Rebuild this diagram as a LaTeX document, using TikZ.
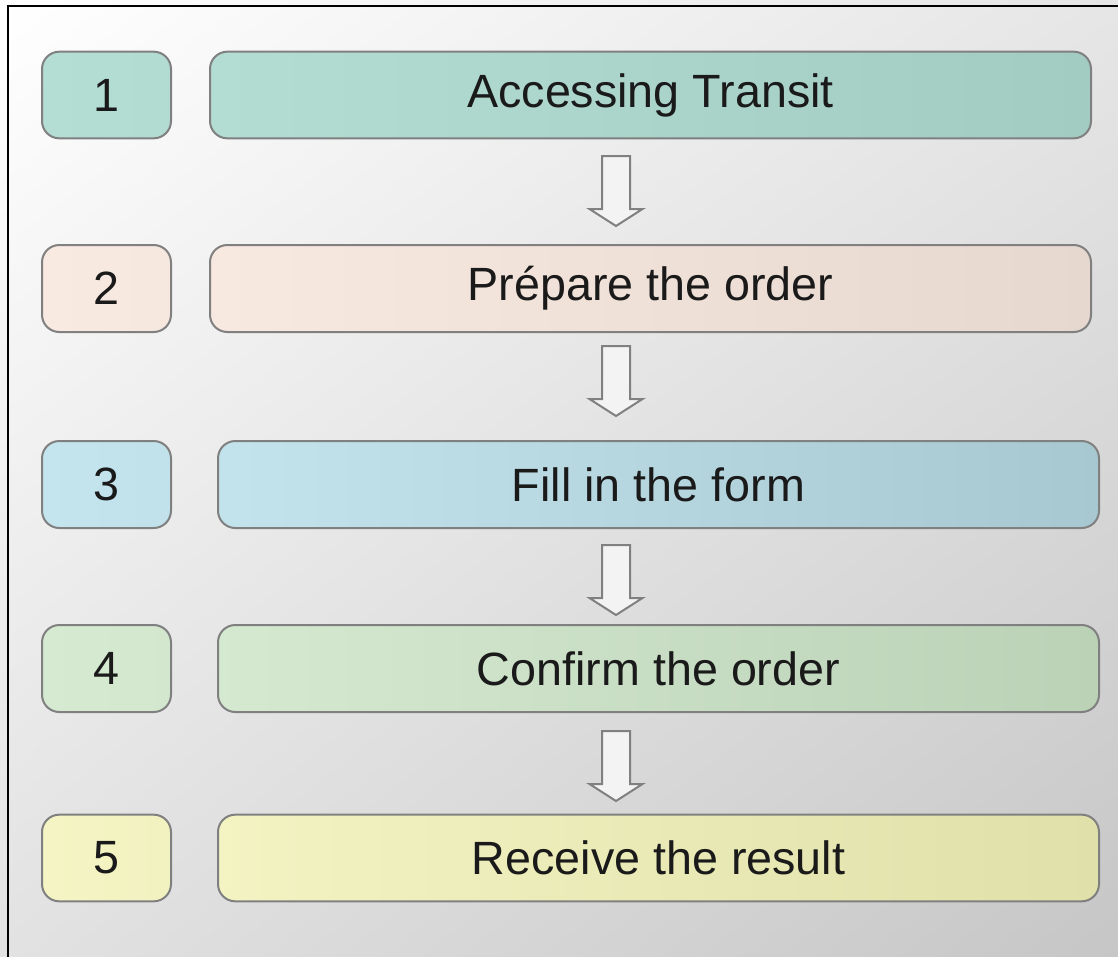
\documentclass[tikz,border=0pt]{standalone}
\usepackage{fontspec}
\setmainfont{Liberation Sans}
\usetikzlibrary{shadings}
\definecolor{bgtl}{HTML}{FFFFFF}
\definecolor{bgtr}{HTML}{E6E6E6}
\definecolor{bgbl}{HTML}{E2E2E2}
\definecolor{bgbr}{HTML}{C6C6C6}
\definecolor{edge}{HTML}{808080}
\definecolor{txt}{HTML}{1A1A1A}
\definecolor{aL}{HTML}{B4DDD4}\definecolor{aR}{HTML}{A2CBC1}
\definecolor{bL}{HTML}{F8EAE1}\definecolor{bR}{HTML}{E6D8CE}
\definecolor{cL}{HTML}{C4E4EE}\definecolor{cR}{HTML}{A8C8D1}
\definecolor{dL}{HTML}{D6EAD2}\definecolor{dR}{HTML}{BBD2B7}
\definecolor{eL}{HTML}{F4F4C4}\definecolor{eR}{HTML}{E0E0AA}
\definecolor{arrfill}{HTML}{F3F3F3}
\tikzset{
  box/.style={draw=edge, line width=1.5pt, rounded corners=13pt, inner sep=0pt,
    minimum height=65pt, text=txt, font=\fontsize{35}{42}\selectfont},
  numbox/.style={box, minimum width=96.75pt},
  blockarr/.style={draw=edge, fill=arrfill, line width=1.5pt, line join=miter},
}
\begin{document}
\begin{tikzpicture}[x=0.75pt,y=-0.75pt]
\useasboundingbox (0,0) rectangle (1118,957);
\clip (0,0) rectangle (1118,957);
\shade[upper left=bgtl, upper right=bgtr, lower left=bgbl, lower right=bgbr] (0,0) rectangle (1118,957);
\draw[line width=1.6pt, black] (8,6) rectangle (1140,980);

% row 1
\node[numbox, left color=aL, right color=aL!88!aR] (n1) at (106.5,95) {1};
\node[box, minimum width=660.75pt, left color=aL!95!aR, right color=aR] (s1) at (650.5,95) {Accessing Transit};
% row 2
\node[numbox, left color=bL, right color=bL!88!bR, minimum height=65.25pt] (n2) at (106.5,288.5) {2};
\node[box, minimum width=660.75pt, minimum height=65.25pt, left color=bL!95!bR, right color=bR] (s2) at (650.5,288.5) {Prépare the order};
% row 3
\node[numbox, left color=cL, right color=cL!88!cR, minimum height=65.25pt] (n3) at (106.5,484.5) {3};
\node[box, minimum width=660.75pt, minimum height=65.25pt, left color=cL!95!cR, right color=cR] (s3) at (658.5,484.5) {Fill in the form};
% row 4
\node[numbox, left color=dL, right color=dL!88!dR, minimum height=65.25pt] (n4) at (106.5,668.5) {4};
\node[box, minimum width=660.75pt, minimum height=65.25pt, left color=dL!95!dR, right color=dR] (s4) at (658.5,668.5) {Confirm the order};
% row 5
\node[numbox, left color=eL, right color=eL!88!eR] (n5) at (106.5,858) {5};
\node[box, minimum width=660.75pt, left color=eL!95!eR, right color=eR] (s5) at (658.5,858) {Receive the result};

% block arrows
\foreach \t in {156,346,545,731}{
  \draw[blockarr] (602,\t) -- (630,\t) -- (630,\t+53) -- (642.5,\t+53) -- (616,\t+70)
    -- (589.5,\t+53) -- (602,\t+53) -- cycle;
}
\end{tikzpicture}
\end{document}
